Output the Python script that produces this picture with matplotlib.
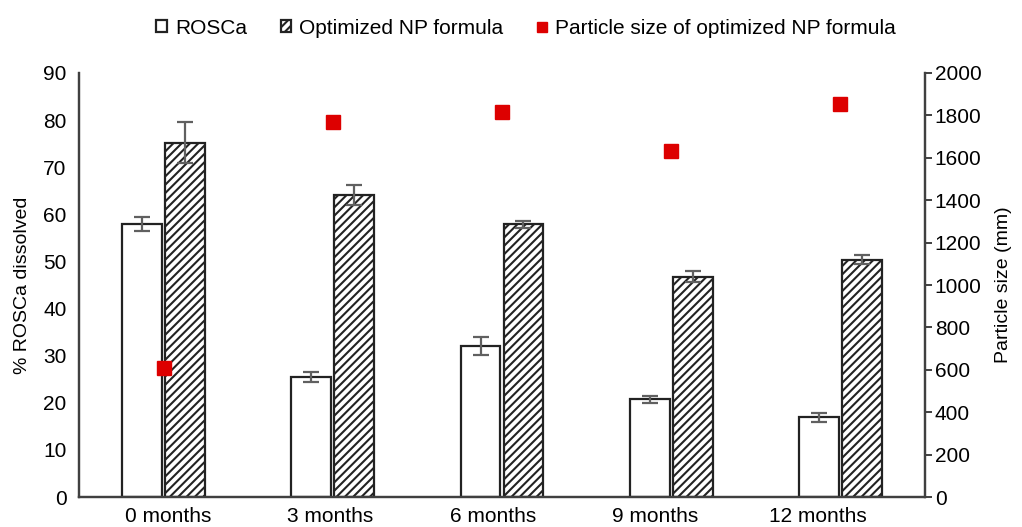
import matplotlib.pyplot as plt
import matplotlib.patches as mpatches
import matplotlib.lines as mlines
import numpy as np

plt.rcParams['font.family'] = ['Liberation Sans', 'DejaVu Sans']
plt.rcParams['hatch.linewidth'] = 1.5

months = ["0 months", "3 months", "6 months", "9 months", "12 months"]
rosca = [57.9, 25.5, 32.0, 20.7, 16.9]
rosca_err = [1.5, 1.0, 1.9, 0.7, 0.9]
np_formula = [75.2, 64.1, 57.9, 46.8, 50.4]
np_err = [4.4, 2.2, 0.7, 1.2, 0.9]
particle_size = [608, 1767, 1815, 1632, 1854]

x = np.arange(len(months))
w = 0.236
off = 0.127
# the month labels sit a little off the bar groups in the original
label_shift = [0.03, -0.018, -0.053, -0.095, -0.136]

fig = plt.figure(figsize=(10.22, 5.27), dpi=100)
ax = fig.add_axes([0.0773, 0.0569, 0.8278, 0.8046])
ax2 = ax.twinx()

errkw = dict(ecolor="#606060", elinewidth=1.6, capsize=6, capthick=1.6)
ax.bar(x - off, rosca, w, yerr=rosca_err, color="white", edgecolor="#222222",
       linewidth=1.6, error_kw=errkw, zorder=2)
ax.bar(x + off, np_formula, w, yerr=np_err, color="white", edgecolor="#222222",
       linewidth=1.6, hatch="////", error_kw=errkw, zorder=2)
ax2.plot(x, particle_size, linestyle="none", marker="s", markersize=10.5,
         color="#DD0000", markeredgecolor="#DD0000")

ax.set_xlim(-0.5, 4.5)
ax.set_ylim(0, 90)
ax.set_yticks(np.arange(0, 91, 10))
ax.set_xticks(x + np.array(label_shift))
ax.set_xticklabels(months)
ax2.set_ylim(0, 2000)
ax2.set_yticks(np.arange(0, 2001, 200))

for a in (ax, ax2):
    a.spines["top"].set_visible(False)
    for s in ["left", "right", "bottom"]:
        a.spines[s].set_color("#404040")
        a.spines[s].set_linewidth(1.6)

ax.tick_params(axis="y", length=0, labelsize=15, pad=9)
ax.tick_params(axis="x", length=0, labelsize=15, pad=7)
ax2.tick_params(axis="y", direction="out", length=5, width=1.4, color="#404040",
                labelsize=15, pad=2)

ax.set_ylabel("% ROSCa dissolved", fontsize=14, labelpad=9)
ax2.set_ylabel("Particle size (mm)", fontsize=14, labelpad=10)

h1 = mpatches.Patch(facecolor="white", edgecolor="#222222", linewidth=1.6)
h2 = mpatches.Patch(facecolor="white", edgecolor="#222222", linewidth=1.6, hatch="////")
h3 = mlines.Line2D([], [], linestyle="none", marker="s", markersize=7, color="#DD0000")
fig.legend([h1, h2, h3],
           ["ROSCa", "Optimized NP formula", "Particle size of optimized NP formula"],
           loc="upper center", bbox_to_anchor=(0.515, 1.0), ncol=3, frameon=False,
           fontsize=15, handlelength=0.5, handleheight=0.5, columnspacing=1.6,
           handletextpad=0.4)

fig.savefig("out.png", dpi=100)
